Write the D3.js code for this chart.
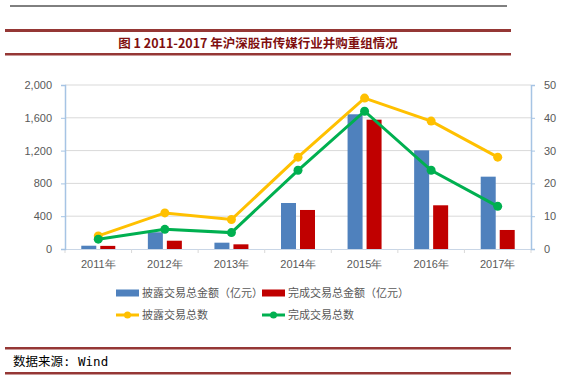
<!DOCTYPE html>
<html lang="zh">
<head>
<meta charset="utf-8">
<script src="https://d3js.org/d3.v7.min.js"></script>
<style>
  body { margin: 0; background: #fff; }
  .tick text { font-family: "Liberation Sans", Arial, sans-serif; font-size: 11px; fill: #595959; }
  .legend-text { font-family: "Noto Sans CJK SC", sans-serif; font-size: 11px; fill: #595959; }
</style>
</head>
<body>
<div id="chart"></div>
<script>
  const years = ["2011年", "2012年", "2013年", "2014年", "2015年", "2016年", "2017年"];
  const disclosedAmount = [40, 204, 77, 561, 1643, 1203, 882];
  const completedAmount = [38, 101, 57, 476, 1577, 533, 232];
  const disclosedCount = [4, 11, 9, 28, 46, 39, 28];
  const completedCount = [3, 6, 5, 24, 42, 24, 13];
  const leftTicks = [0, 400, 800, 1200, 1600, 2000];
  const rightTicks = [0, 10, 20, 30, 40, 50];

  const width = 587, height = 383;
  const plot = { left: 65, right: 531, top: 85, bottom: 249 };
  const darkRed = "#953735";

  const svg = d3.select("#chart").append("svg")
      .attr("width", width)
      .attr("height", height);

  // header rules and title
  svg.append("line").attr("x1", 10).attr("x2", 507).attr("y1", 6).attr("y2", 6)
      .attr("stroke", "#000").attr("stroke-width", 1);
  svg.append("rect").attr("x", 5).attr("y", 29).attr("width", 506).attr("height", 3).attr("fill", darkRed);
  svg.append("rect").attr("x", 5).attr("y", 53).attr("width", 506).attr("height", 2.5).attr("fill", darkRed);
  svg.append("text")
      .attr("x", 258).attr("y", 47.5)
      .attr("text-anchor", "middle")
      .attr("font-family", "'Noto Sans CJK SC', sans-serif")
      .attr("font-weight", "bold")
      .attr("font-size", "12.5px")
      .attr("fill", "#7f0f0f")
      .text("图 1 2011-2017 年沪深股市传媒行业并购重组情况");

  const x = d3.scaleBand().domain(years).range([plot.left, plot.right]);
  const yLeft = d3.scaleLinear().domain([0, 2000]).range([plot.bottom, plot.top]);
  const yRight = d3.scaleLinear().domain([0, 50]).range([plot.bottom, plot.top]);

  // gridlines
  svg.append("g")
      .selectAll("line")
      .data(leftTicks.slice(1))
      .join("line")
      .attr("x1", plot.left).attr("x2", plot.right)
      .attr("y1", d => yLeft(d)).attr("y2", d => yLeft(d))
      .attr("stroke", "#d9d9d9").attr("stroke-width", 1);

  // bars
  const barW = 15, gap = 4;
  svg.append("g").selectAll("rect")
      .data(disclosedAmount)
      .join("rect")
      .attr("x", (d, i) => x(years[i]) + x.bandwidth() / 2 - gap / 2 - barW)
      .attr("y", d => yLeft(d))
      .attr("width", barW)
      .attr("height", d => plot.bottom - yLeft(d))
      .attr("fill", "#4f81bd");
  svg.append("g").selectAll("rect")
      .data(completedAmount)
      .join("rect")
      .attr("x", (d, i) => x(years[i]) + x.bandwidth() / 2 + gap / 2)
      .attr("y", d => yLeft(d))
      .attr("width", barW)
      .attr("height", d => plot.bottom - yLeft(d))
      .attr("fill", "#c00000");

  // axes
  const axisColor = "#a6c4e4";
  const xAxis = svg.append("g")
      .attr("transform", `translate(0,${plot.bottom})`)
      .call(d3.axisBottom(x).tickSize(0).tickPadding(11));
  xAxis.select(".domain").attr("stroke", "#c9d6e6");
  xAxis.selectAll(".tick text").attr("font-family", "'Liberation Sans', 'Noto Sans CJK SC', sans-serif");
  xAxis.selectAll(".sep")
      .data(d3.range(years.length + 1))
      .join("line")
      .attr("class", "sep")
      .attr("x1", i => plot.left + i * x.step()).attr("x2", i => plot.left + i * x.step())
      .attr("y1", 0).attr("y2", 4)
      .attr("stroke", "#d9d9d9");

  const leftAxis = svg.append("g")
      .attr("transform", `translate(${plot.left},0)`)
      .call(d3.axisLeft(yLeft).tickValues(leftTicks).tickFormat(d3.format(",")).tickSize(4).tickPadding(9));
  leftAxis.select(".domain").attr("stroke", axisColor).attr("stroke-width", 1.5);
  leftAxis.selectAll(".tick line").attr("stroke", axisColor);

  const rightAxis = svg.append("g")
      .attr("transform", `translate(${plot.right},0)`)
      .call(d3.axisRight(yRight).tickValues(rightTicks).tickSize(4).tickPadding(9));
  rightAxis.select(".domain").attr("stroke", axisColor).attr("stroke-width", 1.5);
  rightAxis.selectAll(".tick line").attr("stroke", axisColor);

  // lines
  const cx = i => x(years[i]) + x.bandwidth() / 2;
  function drawLine(values, color) {
    const line = d3.line().x((d, i) => cx(i)).y(d => yRight(d));
    svg.append("path")
        .datum(values)
        .attr("d", line)
        .attr("fill", "none")
        .attr("stroke", color)
        .attr("stroke-width", 3);
    svg.append("g").selectAll("circle")
        .data(values)
        .join("circle")
        .attr("cx", (d, i) => cx(i))
        .attr("cy", d => yRight(d))
        .attr("r", 4.5)
        .attr("fill", color);
  }
  drawLine(disclosedCount, "#ffc000");
  drawLine(completedCount, "#00b050");

  // legend
  const legend = svg.append("g");
  const items = [
    { label: "披露交易总金额（亿元）", color: "#4f81bd", type: "rect", x: 116, y: 293 },
    { label: "完成交易总金额（亿元）", color: "#c00000", type: "rect", x: 262, y: 293 },
    { label: "披露交易总数", color: "#ffc000", type: "line", x: 116, y: 315 },
    { label: "完成交易总数", color: "#00b050", type: "line", x: 262, y: 315 }
  ];
  items.forEach(it => {
    if (it.type === "rect") {
      legend.append("rect").attr("x", it.x).attr("y", it.y - 3.5).attr("width", 23).attr("height", 7).attr("fill", it.color);
    } else {
      legend.append("line").attr("x1", it.x).attr("x2", it.x + 23).attr("y1", it.y).attr("y2", it.y)
          .attr("stroke", it.color).attr("stroke-width", 3);
      legend.append("circle").attr("cx", it.x + 11.5).attr("cy", it.y).attr("r", 3.5).attr("fill", it.color);
    }
    legend.append("text")
        .attr("class", "legend-text")
        .attr("x", it.x + 26)
        .attr("y", it.y + 4)
        .text(it.label);
  });

  // footer
  svg.append("rect").attr("x", 5).attr("y", 347).attr("width", 506).attr("height", 2.5).attr("fill", darkRed);
  svg.append("rect").attr("x", 5).attr("y", 372).attr("width", 506).attr("height", 2.5).attr("fill", darkRed);
  svg.append("text")
      .attr("x", 13).attr("y", 366)
      .attr("font-family", "'DejaVu Sans Mono', 'Noto Sans CJK SC', monospace")
      .attr("font-size", "12.5px")
      .attr("fill", "#000")
      .text("数据来源: Wind");
</script>
</body>
</html>
